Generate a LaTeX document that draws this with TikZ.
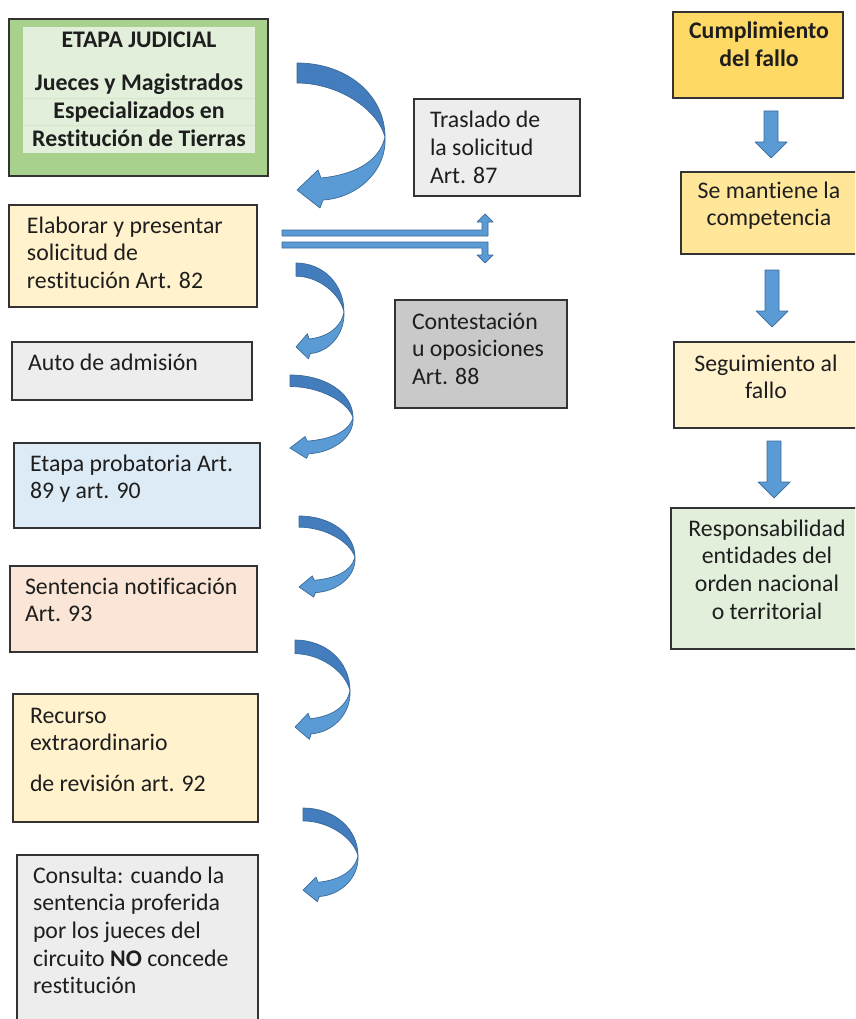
\documentclass[tikz,border=0pt]{standalone}
\usepackage{fontspec}
\setmainfont{Carlito}[Ligatures=NoCommon]
\definecolor{txtc}{HTML}{1E1E1E}
\definecolor{cGreenO}{HTML}{A9D18E}
\definecolor{cGreenI}{HTML}{E2EFDA}
\definecolor{cGreenL}{HTML}{D3E6C6}
\definecolor{cCream}{HTML}{FFF2CC}
\definecolor{cGray}{HTML}{EDEDED}
\definecolor{cGrayD}{HTML}{C9C9C9}
\definecolor{cBlue}{HTML}{DDEBF7}
\definecolor{cPeach}{HTML}{FBE5D6}
\definecolor{cGold}{HTML}{FFD966}
\definecolor{cYel}{HTML}{FFE699}
\definecolor{cArrL}{HTML}{5B9BD5}
\definecolor{cArrD}{HTML}{437DBD}
\definecolor{cArrLine}{HTML}{3A6A99}
\tikzset{
  box/.style={draw=black!80, line width=1.1pt, inner sep=0pt, outer sep=0pt, anchor=north west},
  txt/.style={inner sep=0pt, outer sep=0pt, font=\fontsize{23.8}{27.7}\selectfont, text=txtc, align=left, anchor=north west},
  ctxt/.style={txt, align=center, anchor=north},
  arrlight/.style={fill=cArrL, draw=cArrLine, line width=0.7pt, line join=round},
  arrdarkface/.style={fill=cArrD, draw=cArrLine, line width=0.7pt, line join=round}
}
\newcommand\st{\rule{0pt}{20pt}}
\newcommand\curvarrow[4]{%
  \begin{scope}[shift={(#1,#2)}, xscale=#3, yscale=#4]
    \path[arrlight] (88,74) .. controls (90,108) and (60,135) .. (26,137) -- (23,145) -- (0,127) -- (21,107) -- (24,115) .. controls (55,112) and (82,100) .. (88,74) -- cycle;
    \path[arrdarkface] (0,0) .. controls (50,0) and (88,32) .. (88,74) .. controls (80,45) and (40,20) .. (0,20) -- cycle;
  \end{scope}}
\newcommand\blockdown[3]{%
  \path[arrlight] (#1-7,#2) -- (#1+7,#2) -- (#1+7,#3-16) -- (#1+16,#3-16) -- (#1,#3) -- (#1-16,#3-16) -- (#1-7,#3-16) -- cycle;}
\begin{document}
\begin{tikzpicture}[x=1pt,y=-1pt]
\useasboundingbox (0,0) rectangle (855,1019);
\clip (0,0) rectangle (855,1019);
% ---------- left column ----------
\node[box, fill=cGreenO, minimum width=259, minimum height=157] (g) at (9,19) {};
\node[box, draw=none, fill=cGreenI, minimum width=232, minimum height=126] (gi) at (23,27) {};
\draw[cGreenL, line width=0.6pt] (23,98) -- (255,98) (23,125) -- (255,125);
\node[ctxt, font=\fontsize{23.8}{27.7}\selectfont\bfseries] (gt) at (139,28) {\st ETAPA JUDICIAL\\[15pt]Jueces y Magistrados\\Especializados en\\Restitución de Tierras};

\node[box, fill=cCream, minimum width=248, minimum height=102] (b2) at (9,205) {};
\node[txt] (t2) at (27,213) {\st Elaborar y presentar\\solicitud de\\restitución Art. 82};

\node[box, fill=cGray, minimum width=240, minimum height=58] (b3) at (12,342) {};
\node[txt] (t3) at (28,350) {\st Auto de admisión};

\node[box, fill=cBlue, minimum width=246, minimum height=85] (b4) at (14,443) {};
\node[txt] (t4) at (30,451) {\st Etapa probatoria Art.\\89 y art. 90};

\node[box, fill=cPeach, minimum width=247, minimum height=86] (b5) at (10,566) {};
\node[txt] (t5) at (25,574) {\st Sentencia notificación\\Art. 93};

\node[box, fill=cCream, minimum width=245, minimum height=128] (b6) at (13,694) {};
\node[txt] (t6) at (30,703) {\st Recurso\\extraordinario\\[13pt]de revisión art. 92};

\node[box, fill=cGray, minimum width=241, minimum height=190] (b7) at (17,855) {};
\node[txt] (t7) at (33,863) {\st Consulta: cuando la\\sentencia proferida\\por los jueces del\\circuito \textbf{NO} concede\\restitución};

% ---------- middle ----------
\node[box, fill=cGray, minimum width=166, minimum height=97] (tr) at (414,99) {};
\node[txt] (ttr) at (430,108) {\st Traslado de\\la solicitud\\Art. 87};

\node[box, fill=cGrayD, minimum width=172, minimum height=108] (co) at (395,300) {};
\node[txt] (tco) at (412,309) {\st Contestación\\u oposiciones\\Art. 88};

% double arrow
\path[arrlight] (282,230) -- (482,230) -- (482,222) -- (477,222) -- (485,214) -- (493,222) -- (488,222) -- (488,236) -- (282,236) -- cycle;
\path[arrlight] (282,242) -- (488,242) -- (488,255) -- (493,255) -- (485,263) -- (477,255) -- (482,255) -- (482,248) -- (282,248) -- cycle;

% curved arrows
\curvarrow{297}{63}{1}{1}
\curvarrow{296}{263}{0.545}{0.661}
\curvarrow{290}{375}{0.716}{0.575}
\curvarrow{299}{516}{0.636}{0.559}
\curvarrow{295}{640}{0.625}{0.685}
\curvarrow{303}{808}{0.625}{0.646}

% ---------- right column ----------
\node[box, fill=cGold, minimum width=170, minimum height=86] (cu) at (673,12) {};
\node[ctxt, font=\fontsize{23.8}{27.7}\selectfont\bfseries] (tcu) at (759,19) {\st Cumplimiento\\del fallo};

\node[box, fill=cYel, minimum width=180, minimum height=82] (se) at (681,172) {};
\node[ctxt] (tse) at (769,178) {\st Se mantiene la\\competencia};

\node[box, fill=cCream, minimum width=190, minimum height=86] (sg) at (674,342) {};
\node[ctxt] (tsg) at (766,351) {\st Seguimiento al\\fallo};

\node[box, fill=cGreenI, minimum width=190, minimum height=141] (re) at (671,508) {};
\node[ctxt] (tre) at (767,516) {\st Responsabilidad\\entidades del\\orden nacional\\o territorial};

\blockdown{771}{111}{158}
\blockdown{772}{270}{327}
\blockdown{774}{441}{498}
\end{tikzpicture}
\end{document}
